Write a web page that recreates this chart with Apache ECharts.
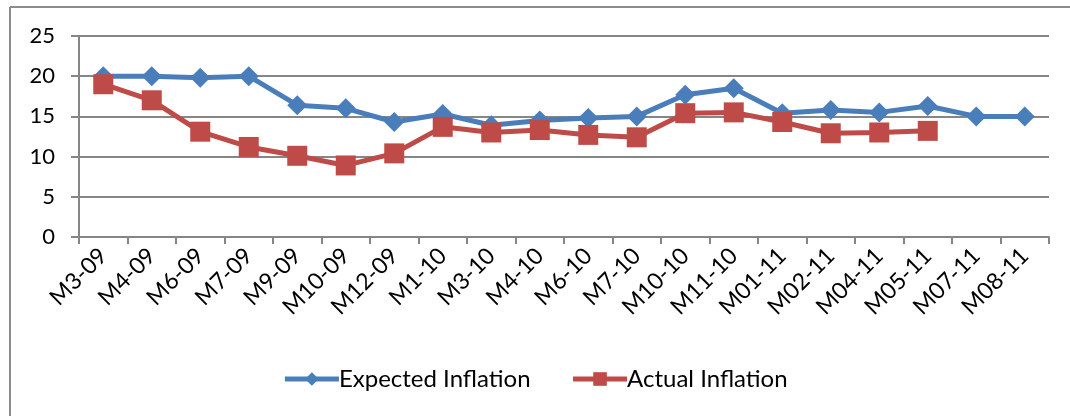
<!DOCTYPE html>
<html>
<head>
<meta charset="utf-8">
<script src="https://cdn.jsdelivr.net/npm/echarts@6/dist/echarts.min.js"></script>
<style>html,body{margin:0;padding:0;background:#fff}#c{width:1070px;height:416px}</style>
</head>
<body>
<div id="c"></div>
<script>
const categories = ['M3-09','M4-09','M6-09','M7-09','M9-09','M10-09','M12-09','M1-10','M3-10','M4-10','M6-10','M7-10','M10-10','M11-10','M01-11','M02-11','M04-11','M05-11','M07-11','M08-11'];
const expectedInflation = [20.0,20.0,19.8,20.0,16.4,16.0,14.3,15.3,13.9,14.5,14.8,15.0,17.7,18.5,15.4,15.8,15.5,16.3,15.0,15.0];
const actualInflation = [19.0,17.0,13.1,11.2,10.1,8.9,10.4,13.7,13.0,13.3,12.7,12.4,15.4,15.5,14.3,12.9,13.0,13.2,null,null];
const yTicks = [0,5,10,15,20,25];

const font = 'Lato, "Open Sans", sans-serif';
const chart = echarts.init(document.getElementById('c'), null, {renderer:'canvas'});
chart.setOption({
  animation:false,
  backgroundColor:'#fff',
  textStyle:{fontFamily:font},
  graphic:[
    {type:'line', shape:{x1:10,y1:7,x2:1070,y2:7}, style:{stroke:'#8c8c8c',lineWidth:2}, silent:true},
    {type:'line', shape:{x1:10,y1:7,x2:10,y2:416}, style:{stroke:'#8c8c8c',lineWidth:2}, silent:true}
  ],
  grid:{left:79,right:21,top:36,bottom:179,containLabel:false},
  legend:{
    top:362,left:'center',
    itemWidth:54,itemHeight:17,itemGap:40,
    lineStyle:{width:5},
    textStyle:{fontFamily:font,fontSize:24,color:'#000',padding:[0,0,0,-5]},
    data:['Expected Inflation','Actual Inflation']
  },
  xAxis:{
    type:'category',data:categories,boundaryGap:true,
    axisLine:{lineStyle:{color:'#868686',width:2}},
    axisTick:{show:true,length:7,alignWithLabel:false,lineStyle:{color:'#868686',width:2}},
    axisLabel:{rotate:45,fontSize:23,color:'#000',fontFamily:font,margin:15,interval:0}
  },
  yAxis:{
    type:'value',min:yTicks[0],max:yTicks[yTicks.length-1],interval:5,
    axisLine:{show:true,lineStyle:{color:'#868686',width:2}},
    axisTick:{show:true,length:8,lineStyle:{color:'#868686',width:2}},
    splitLine:{lineStyle:{color:'#868686',width:2}},
    axisLabel:{fontSize:22,color:'#000',fontFamily:font,margin:24}
  },
  series:[
    {name:'Expected Inflation',type:'line',data:expectedInflation,color:'#4A7EBB',
     lineStyle:{width:5,color:'#4A7EBB'},symbol:'diamond',symbolSize:20,
     itemStyle:{color:'#4A7EBB'},z:2},
    {name:'Actual Inflation',type:'line',data:actualInflation,color:'#BE4B48',
     lineStyle:{width:5,color:'#BE4B48'},symbol:'rect',symbolSize:20,
     itemStyle:{color:'#BE4B48'},z:3}
  ]
});
</script>
</body>
</html>
